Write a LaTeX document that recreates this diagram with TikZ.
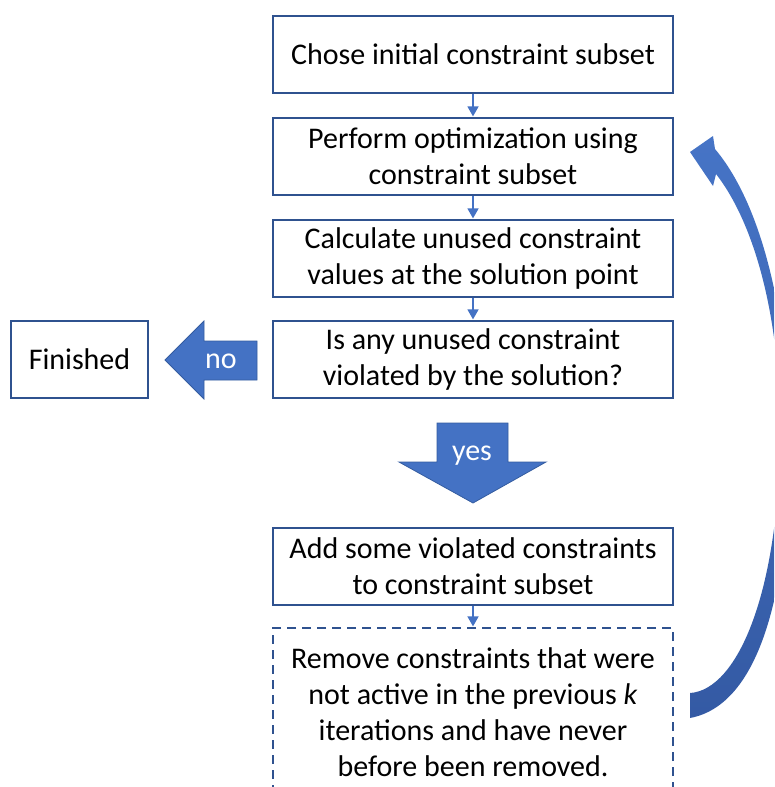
\documentclass[tikz,border=0pt]{standalone}
\usepackage{fontspec}
\setmainfont{Carlito}
\usetikzlibrary{arrows.meta}
\definecolor{boxline}{RGB}{47,82,143}
\definecolor{accent}{RGB}{68,114,196}
\definecolor{accentline}{RGB}{52,92,160}
\definecolor{curvetop}{RGB}{70,116,198}
\definecolor{curvebot}{RGB}{52,90,164}
\begin{document}
\begin{tikzpicture}[x=1pt,y=-1pt,
  stepbox/.style={draw=boxline, line width=1.6pt, fill=white,
    minimum width=400pt, minimum height=77pt, inner sep=0pt,
    align=center, font=\fontsize{30}{36}\selectfont},
  conn/.style={draw=accent, line width=1.5pt,
    -{Triangle[length=10pt,width=11pt]}, shorten >=0.8pt},
  blockarrow/.style={fill=accent, draw=accentline, line width=0.8pt},
  arrowlabel/.style={text=white, font=\fontsize{30}{36}\selectfont, inner sep=0pt}
]
\useasboundingbox (0,0) rectangle (774,787);
\clip (0,0) rectangle (774,787);

% flow chart steps
\node[stepbox] (s1) at (473,54.5) {Chose initial constraint subset};
\node[stepbox] (s2) at (473,156.5) {Perform optimization using\\constraint subset};
\node[stepbox] (s3) at (473,258.5) {Calculate unused constraint\\values at the solution point};
\node[stepbox] (s4) at (473,359.5) {Is any unused constraint\\violated by the solution?};
\node[stepbox, minimum width=137pt] (fin) at (79.5,359.5) {Finished};
\node[stepbox] (s5) at (473,566.5) {Add some violated constraints\\to constraint subset};
\node[stepbox, dash pattern=on 9pt off 6pt, minimum height=168pt] (s6) at (473,712)
  {Remove constraints that were\\not active in the previous \textit{k}\\iterations and have never\\before been removed.};

% thin connectors between consecutive steps
\draw[conn] (s1) -- (s2);
\draw[conn] (s2) -- (s3);
\draw[conn] (s3) -- (s4);
\draw[conn] (s5) -- (s6);

% block arrow: "no" branch pointing left
\path[blockarrow] (257,341) -- (204,341) -- (204,321) -- (165,360)
  -- (204,399) -- (204,380) -- (257,380) -- cycle;
\node[arrowlabel] (no) at (221,361) {no};

% block arrow: "yes" branch pointing down
\path[blockarrow] (437,423) -- (508,423) -- (508,462) -- (546,462)
  -- (473,503) -- (399,462) -- (437,462) -- cycle;
\node[arrowlabel] (yes) at (472,456) {yes};

% curved return arrow from the last step back to the optimization step
\shade[top color=curvetop, bottom color=curvebot]
  (690,152) -- (713,136) -- (715,149)
  .. controls (758,200) and (786,300) .. (790,430)
  .. controls (790,590) and (760,705) .. (690,718)
  -- (690,693)
  .. controls (738,690) and (780,590) .. (780,430)
  .. controls (780,310) and (752,220) .. (716,174)
  -- (713,186) -- cycle;
\end{tikzpicture}
\end{document}
